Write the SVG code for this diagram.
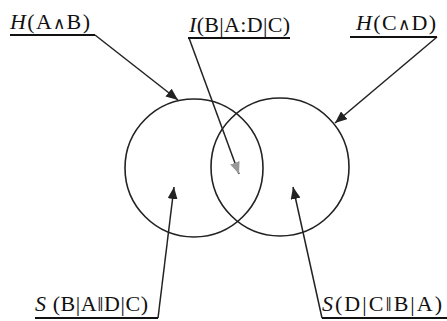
<svg xmlns="http://www.w3.org/2000/svg" width="447" height="321" viewBox="0 0 447 321">
<defs>
<style>
.t{font-family:"Liberation Serif","Times New Roman",serif;font-size:22px;fill:#111}
.i{font-style:italic}
.w{font-size:17px}
.c{fill:none;stroke:#222;stroke-width:1.6}
.l{fill:none;stroke:#222;stroke-width:1.5}
.u{stroke:#111;stroke-width:2.2}
</style>
<marker id="ah" viewBox="0 0 12 10" refX="12" refY="5" markerWidth="12" markerHeight="10" markerUnits="userSpaceOnUse" orient="auto">
<path d="M0,0 L12,5 L0,10 Z" fill="#222"/>
</marker>
<marker id="ahg" viewBox="0 0 12 10" refX="12" refY="5" markerWidth="12" markerHeight="10" markerUnits="userSpaceOnUse" orient="auto">
<path d="M0,0 L12,5 L0,10 Z" fill="#999"/>
</marker>
</defs>
<g id="circleAB"><circle class="c" cx="194" cy="168" r="69"/></g>
<g id="circleCD"><circle class="c" cx="280" cy="167" r="69"/></g>
<g id="connectors">
<line class="l" x1="95" y1="35" x2="178" y2="100" marker-end="url(#ah)"/>
<line class="l" x1="189" y1="38" x2="239" y2="174" stroke="#555" marker-end="url(#ahg)"/>
<line class="l" x1="437" y1="37" x2="335" y2="123" marker-end="url(#ah)"/>
<line class="l" x1="158" y1="318" x2="174" y2="187" marker-end="url(#ah)"/>
<line class="l" x1="322" y1="318" x2="293" y2="187" marker-end="url(#ah)"/>
</g>
<g id="labelHAB">
<text class="t" x="10" y="29" textLength="80" lengthAdjust="spacing"><tspan class="i">H</tspan>(A<tspan class="w">∧</tspan>B)</text>
<line class="u" x1="10" y1="35" x2="95" y2="35"/>
</g>
<g id="labelI">
<text class="t" x="189" y="32" textLength="101" lengthAdjust="spacing"><tspan class="i">I</tspan>(B|A:D|C)</text>
<line class="u" x1="188" y1="38" x2="290" y2="38"/>
</g>
<g id="labelHCD">
<text class="t" x="356" y="30" textLength="80" lengthAdjust="spacing"><tspan class="i">H</tspan>(C<tspan class="w">∧</tspan>D)</text>
<line class="u" x1="350" y1="37" x2="437" y2="37"/>
</g>
<g id="labelSL">
<text class="t" x="35" y="311" textLength="113" lengthAdjust="spacing"><tspan class="i">S</tspan> (B|A‖D|C)</text>
<line class="u" x1="35" y1="318" x2="158" y2="318"/>
</g>
<g id="labelSR">
<text class="t" x="322" y="311" textLength="120" lengthAdjust="spacing"><tspan class="i">S</tspan>(D|C‖B|A)</text>
<line class="u" x1="322" y1="318" x2="447" y2="318"/>
</g>
</svg>
